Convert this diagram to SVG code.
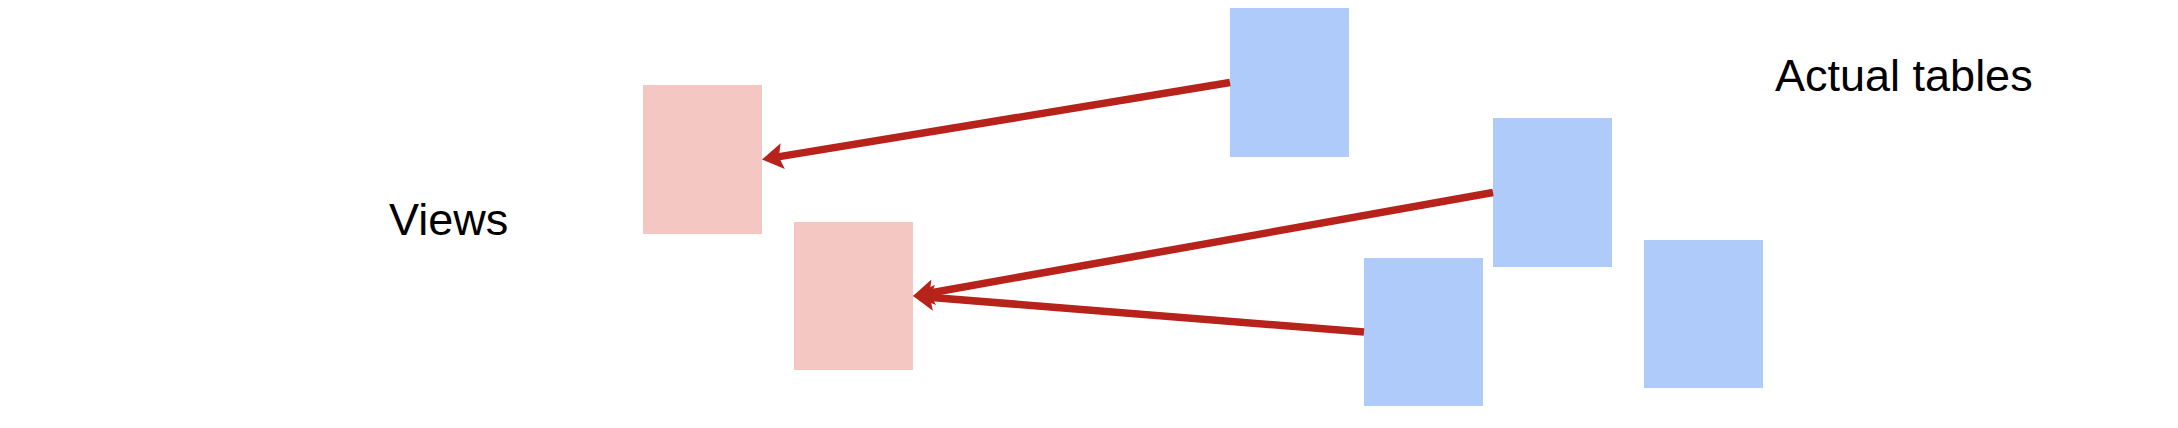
<svg xmlns="http://www.w3.org/2000/svg" width="2178" height="428" viewBox="0 0 2178 428">
<style>
.view{fill:#f4c7c3}
.table{fill:#aecbfa}
.conn{stroke:#b7221a;stroke-width:7.5;fill:none;marker-end:url(#arr)}
.lbl{font-family:"Liberation Sans",Arial,sans-serif;font-size:45px;fill:#000}
</style>
<defs>
<marker id="arr" markerUnits="userSpaceOnUse" markerWidth="30" markerHeight="30" viewBox="-26 -15 30 30" refX="-16" refY="0" orient="auto">
<path d="M0,0 L-21,-13 L-17,0 L-21,13 Z" fill="#b7221a"/>
</marker>
</defs>
<rect width="2178" height="428" fill="#fff"/>
<g id="view1"><rect class="view" x="643" y="85" width="119" height="149"/></g>
<g id="view2"><rect class="view" x="794" y="222" width="119" height="148"/></g>
<g id="table1"><rect class="table" x="1230" y="8" width="119" height="149"/></g>
<g id="table2"><rect class="table" x="1493" y="118" width="119" height="149"/></g>
<g id="table3"><rect class="table" x="1364" y="258" width="119" height="148"/></g>
<g id="table4"><rect class="table" x="1644" y="240" width="119" height="148"/></g>
<g id="connectors">
<line class="conn" x1="1230" y1="82.5" x2="777.82" y2="156.9"/>
<line class="conn" x1="1493" y1="192.5" x2="928.75" y2="293.19"/>
<line class="conn" x1="1364" y1="332" x2="928.95" y2="297.27"/>
</g>
<g id="label-views"><text class="lbl" x="389" y="235">Views</text></g>
<g id="label-tables"><text class="lbl" x="1775" y="91">Actual tables</text></g>
</svg>
